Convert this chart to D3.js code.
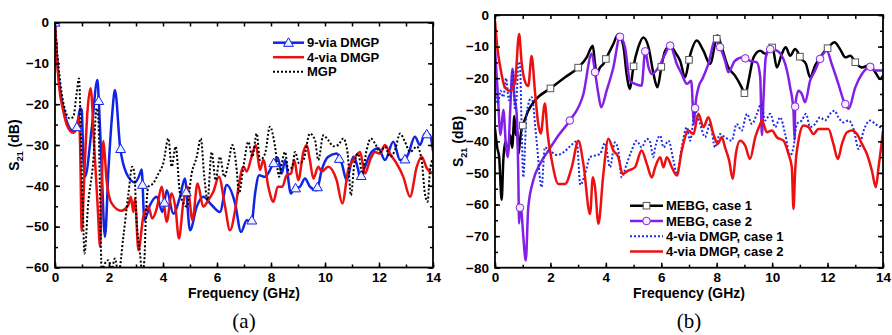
<!DOCTYPE html>
<html><head><meta charset="utf-8">
<script src="https://cdn.jsdelivr.net/npm/d3@7"></script>
<style>html,body{margin:0;padding:0;background:#fff;}svg{display:block;}</style>
</head><body>
<svg id="c" width="892" height="335"></svg>
<script>
// ---------- DATA ----------
const freqTicks = [0, 2, 4, 6, 8, 10, 12, 14];
const yTicksA = [0, -10, -20, -30, -40, -50, -60];
const yTicksB = [0, -10, -20, -30, -40, -50, -60, -70, -80];
const captions = ["(a)", "(b)"];
const xTitle = "Frequency (GHz)";
const legendA = ["9-via DMGP", "4-via DMGP", "MGP"];
const legendB = ["MEBG, case 1", "MEBG, case 2", "4-via DMGP, case 1", "4-via DMGP, case 2"];

// panel (a) series: [frequency GHz, S21 dB]
const via9 = [[0,0],[0.06,-7],[0.15,-14.5],[0.3,-20.5],[0.45,-24.5],[0.7,-26.8],[0.82,-25.5],[0.93,-21],[0.99,-21.5],[1.05,-33],[1.11,-37.8],[1.36,-26],[1.57,-14.1],[1.63,-20.2],[1.73,-36],[1.85,-52.5],[1.98,-36],[2.12,-22.3],[2.22,-16.5],[2.41,-30.4],[2.65,-37],[2.96,-39.2],[3.15,-37],[3.21,-36],[3.31,-48.4],[3.52,-44.7],[3.77,-42.7],[3.98,-46.4],[4.14,-41.1],[4.38,-46.8],[4.63,-42.7],[4.81,-38.2],[5.0,-50.9],[5.25,-45.1],[5.49,-42.7],[5.8,-44.7],[6.11,-46.4],[6.36,-39.8],[6.67,-44.3],[6.89,-51.3],[7.1,-48.4],[7.28,-49],[7.41,-41.9],[7.56,-37.4],[7.78,-37.8],[8.09,-34.5],[8.25,-33.1],[8.4,-37],[8.52,-33.7],[8.74,-41.9],[8.86,-40.7],[9.07,-40.2],[9.26,-38.2],[9.44,-40.2],[9.69,-41.1],[9.88,-36.1],[10.12,-32.9],[10.43,-32.1],[10.62,-34.5],[10.8,-38.6],[11.05,-32.9],[11.23,-36.1],[11.3,-38.2],[11.48,-35.3],[11.73,-31.7],[11.98,-30.8],[12.22,-33.7],[12.53,-29.2],[12.78,-33.7],[12.96,-33.5],[13.09,-32.1],[13.33,-28],[13.52,-30],[13.7,-27.2],[13.89,-27.6],[14,-31.5]];
const via4 = [[0,0],[0.06,-7.5],[0.15,-15.5],[0.3,-21.5],[0.45,-25.3],[0.68,-27],[0.8,-25.5],[0.88,-23],[0.93,-30],[0.99,-51],[1.1,-35],[1.2,-22],[1.32,-16.1],[1.45,-30],[1.58,-45],[1.67,-54.9],[1.73,-40],[1.79,-29],[1.85,-33],[1.91,-38.6],[2.1,-44.3],[2.45,-46.1],[2.72,-44.7],[2.81,-42.7],[2.9,-46.4],[2.96,-43.1],[3.09,-55.8],[3.27,-47.6],[3.46,-45.1],[3.6,-48],[3.77,-45.5],[3.95,-40.2],[4.14,-48.8],[4.32,-41.9],[4.47,-45.9],[4.59,-52.9],[4.75,-44.3],[4.91,-40.2],[5.09,-48.4],[5.28,-39.4],[5.49,-45.1],[5.68,-43.5],[5.86,-41.5],[6.07,-37.8],[6.3,-45.1],[6.48,-50.9],[6.67,-46],[6.79,-40.6],[6.98,-35.3],[7.1,-36.5],[7.28,-32.9],[7.44,-30],[7.59,-36.1],[7.72,-33.7],[7.9,-40.2],[8.09,-43.9],[8.25,-40.2],[8.42,-40.2],[8.58,-37.4],[8.74,-37],[8.86,-33.7],[9.01,-38.6],[9.2,-31.7],[9.32,-30],[9.44,-33.7],[9.57,-38.2],[9.75,-35.3],[9.88,-36.5],[10.12,-35.3],[10.43,-38.6],[10.64,-44.3],[10.86,-36.1],[11.05,-33.7],[11.3,-31.7],[11.48,-37],[11.67,-33.7],[11.85,-31.7],[12.04,-32.1],[12.22,-30],[12.44,-32.5],[12.65,-34.5],[12.9,-37.8],[13.15,-42.7],[13.4,-35.3],[13.58,-32.9],[13.77,-35.7],[14,-37]];
const mgp = [[0,0],[0.06,-6],[0.12,-10],[0.25,-17.4],[0.4,-22],[0.55,-23.5],[0.68,-23.1],[0.8,-17.4],[0.89,-13.7],[0.96,-28],[1.03,-45],[1.09,-56.6],[1.23,-44.3],[1.42,-33.7],[1.54,-21],[1.6,-23],[1.66,-40],[1.73,-60.7],[1.85,-59],[1.98,-58.2],[2.1,-60.3],[2.22,-57.8],[2.35,-61.5],[2.53,-52.5],[2.72,-41.9],[2.86,-35.3],[2.94,-37],[3.02,-48.4],[3.15,-56.6],[3.23,-61.5],[3.31,-58.2],[3.36,-48.4],[3.46,-40.2],[3.64,-39.4],[3.83,-37],[4.01,-34.5],[4.2,-28.4],[4.32,-35.3],[4.47,-30.4],[4.63,-41.9],[4.88,-45.1],[5.06,-37],[5.25,-32.9],[5.4,-28.4],[5.53,-37.8],[5.65,-43.5],[5.8,-31.7],[5.95,-38.6],[6.11,-32.9],[6.27,-37.8],[6.42,-34.5],[6.57,-30],[6.73,-36.1],[6.81,-41.9],[6.98,-35.3],[7.16,-29.2],[7.31,-32.9],[7.47,-27.2],[7.59,-33.7],[7.78,-32.1],[7.96,-25.5],[8.15,-30.4],[8.3,-37.8],[8.4,-34.5],[8.52,-31.7],[8.64,-36.1],[8.79,-35.3],[8.89,-31.7],[9.04,-34.5],[9.2,-33.7],[9.44,-27.2],[9.63,-28.8],[9.75,-33.7],[9.94,-27.6],[10.12,-28.8],[10.31,-30.3],[10.49,-30],[10.68,-28.4],[10.84,-32.1],[10.96,-42.3],[11.09,-34.5],[11.23,-32.1],[11.38,-37],[11.54,-31.3],[11.7,-28.4],[11.85,-29.6],[12.04,-31.7],[12.22,-30.4],[12.41,-32.9],[12.59,-31.3],[12.78,-27.2],[12.96,-29.2],[13.15,-31.7],[13.4,-30.4],[13.58,-33.7],[13.7,-41.9],[13.8,-43.9],[13.89,-36.1],[14,-33.3]];
const via9Markers = [0, 0.81, 1.62, 2.43, 3.24, 4.05, 4.86, 7.29, 8.1, 8.91, 9.72, 10.53, 11.34, 12.96, 13.77];

// panel (b) series
const mebg1 = [[0,-36],[0.08,-42],[0.15,-45],[0.24,-58.5],[0.3,-46],[0.38,-40],[0.45,-44],[0.55,-38],[0.62,-42],[0.7,-32],[0.75,-38],[0.8,-36],[0.85,-44],[0.9,-40],[0.96,-36],[1.02,-34.5],[1.2,-30.3],[1.44,-27.1],[2.02,-23.1],[2.53,-19.7],[3.01,-16.6],[3.31,-13.4],[3.53,-9.7],[3.61,-15.5],[3.67,-18.5],[3.79,-16.6],[3.91,-15.5],[4.03,-13.4],[4.27,-9.2],[4.45,-6],[4.63,-9.7],[4.75,-18.7],[4.87,-23.4],[4.99,-16.6],[5.17,-10.2],[5.35,-7.1],[5.54,-10.2],[5.72,-18.7],[5.86,-22.9],[6.02,-15.5],[6.14,-11.3],[6.32,-9.7],[6.5,-11.8],[6.68,-14.5],[6.86,-19.7],[7.02,-13.4],[7.28,-8.1],[7.52,-11.3],[7.76,-15.5],[8.03,-6.5],[8.18,-10.2],[8.42,-16.6],[8.66,-19.2],[8.9,-22.9],[9.03,-25.3],[9.15,-20.8],[9.33,-13.4],[9.57,-11.3],[9.75,-12.3],[10.01,-10.2],[10.17,-16.6],[10.35,-12.3],[10.49,-10.2],[10.65,-12.9],[10.83,-10.8],[11.05,-13.9],[11.22,-15.5],[11.37,-19.7],[11.55,-16],[11.73,-13.4],[12.03,-10.2],[12.25,-8.6],[12.45,-10.8],[12.64,-13.4],[12.82,-12.9],[13.03,-15.3],[13.24,-16.6],[13.48,-16],[13.72,-18.1],[13.9,-20.3],[14,-19.2]];
const mebg2 = [[0,-10.5],[0.1,-25],[0.2,-38],[0.3,-30],[0.4,-42],[0.46,-45],[0.55,-30],[0.63,-17],[0.7,-26],[0.78,-31],[0.84,-50],[0.87,-66],[0.9,-61],[0.95,-62],[1.02,-70],[1.11,-77.7],[1.2,-61],[1.38,-52.4],[1.62,-47.2],[1.93,-42.9],[2.3,-38],[2.7,-33.4],[3.19,-25],[3.49,-12.3],[3.61,-18.1],[3.73,-25],[3.83,-29.2],[4.03,-23.9],[4.27,-16.6],[4.51,-6.9],[4.69,-10.2],[4.87,-20.8],[5.05,-21.8],[5.29,-22.4],[5.42,-11.5],[5.54,-16.6],[5.66,-18.7],[5.9,-16.6],[6.14,-12.3],[6.32,-9.7],[6.56,-15.5],[6.74,-18.7],[6.92,-21.8],[7.08,-20.8],[7.18,-34.5],[7.22,-29.5],[7.36,-22.4],[7.48,-20.3],[7.7,-15.5],[7.94,-8.1],[8.12,-10.2],[8.3,-14.5],[8.42,-18.1],[8.66,-14.5],[8.96,-13.4],[9.2,-14.5],[9.45,-15],[9.57,-19.7],[9.63,-38],[9.69,-26.1],[9.77,-13.4],[9.93,-10.8],[10.17,-11.3],[10.47,-15.5],[10.65,-22.9],[10.77,-30.3],[10.81,-39.5],[10.83,-29],[10.95,-24],[11.07,-25],[11.19,-27.6],[11.37,-20.8],[11.55,-17.6],[11.73,-13.9],[11.97,-11.3],[12.15,-15.5],[12.39,-21.8],[12.58,-27.1],[12.64,-28.2],[12.76,-29.7],[13,-22.9],[13.24,-18.7],[13.54,-16.4],[13.72,-17.6],[14,-17.6]];
const dmgp4c1 = [[0,-22],[0.1,-28],[0.2,-24],[0.3,-26],[0.4,-20],[0.5,-27],[0.58,-24],[0.65,-17.5],[0.72,-30],[0.78,-26],[0.85,-14.8],[0.9,-15.5],[0.96,-35],[1.02,-51.4],[1.14,-31.3],[1.32,-26],[1.5,-39.8],[1.68,-54.5],[1.8,-41.9],[1.99,-43],[2.23,-44.3],[2.47,-43.5],[2.71,-41.5],[2.95,-40],[3.08,-53.8],[3.25,-50.3],[3.43,-45],[3.61,-44.5],[3.79,-44],[3.97,-40.5],[4.15,-48.2],[4.33,-40.3],[4.45,-42.9],[4.57,-51.4],[4.75,-47.2],[4.93,-42.9],[5.11,-39.8],[5.29,-41.9],[5.48,-39.2],[5.6,-40.3],[5.71,-45],[5.78,-41.9],[5.96,-38.2],[6.08,-41.9],[6.26,-39.8],[6.44,-46.1],[6.56,-50.3],[6.74,-41.9],[6.92,-35.5],[7.04,-39.8],[7.22,-30.3],[7.4,-34.5],[7.58,-38.7],[7.76,-34.5],[7.94,-41.9],[8.12,-37.7],[8.3,-38.7],[8.54,-39.8],[8.72,-34.5],[8.9,-36.6],[9.09,-31.3],[9.27,-34.5],[9.45,-31.3],[9.6,-28.2],[9.75,-33.4],[9.93,-31.3],[10.11,-35.5],[10.29,-32.4],[10.47,-37.7],[10.65,-44.5],[10.77,-41.9],[10.89,-34.5],[11.07,-33.4],[11.22,-31.3],[11.37,-35.5],[11.55,-34.5],[11.73,-32.4],[11.91,-33.4],[12.09,-31.3],[12.25,-30.3],[12.39,-32.4],[12.58,-34],[12.76,-33.4],[12.94,-36.1],[13.12,-42.4],[13.3,-36.6],[13.54,-33.4],[13.72,-34.5],[14,-36.1]];
const dmgp4c2 = [[0,-1.8],[0.08,-10],[0.18,-16],[0.36,-22.9],[0.54,-24],[0.72,-21.5],[0.87,-6],[0.96,-15],[1.08,-21],[1.2,-22.5],[1.32,-13],[1.44,-24],[1.56,-34.5],[1.65,-37.5],[1.8,-28],[1.9,-37.7],[2.05,-46.1],[2.29,-53.5],[2.53,-53.5],[2.77,-48.2],[3.01,-39.8],[3.19,-47.2],[3.43,-63],[3.53,-51.4],[3.61,-54.5],[3.73,-66.1],[3.91,-50.3],[4.09,-39.2],[4.27,-42.9],[4.45,-45],[4.6,-50.3],[4.81,-49.3],[5.05,-48.2],[5.29,-42.9],[5.48,-47.2],[5.66,-51.4],[5.78,-48.2],[5.96,-45],[6.08,-48.2],[6.2,-45],[6.38,-48.2],[6.56,-50.8],[6.74,-42.9],[6.98,-36.6],[7.16,-37.7],[7.34,-31.3],[7.52,-35.5],[7.7,-32.4],[7.88,-37.7],[8.04,-40.8],[8.18,-38.7],[8.3,-41.9],[8.45,-46.1],[8.58,-51.9],[8.69,-44],[8.84,-39.8],[9.03,-41.4],[9.2,-45.6],[9.39,-38.7],[9.57,-34.5],[9.63,-33.4],[9.81,-37.1],[9.99,-36.6],[10.17,-38.7],[10.41,-39.8],[10.59,-44],[10.71,-48.2],[10.77,-61.4],[10.83,-49.3],[10.95,-39.8],[11.13,-35],[11.31,-35.5],[11.49,-37.7],[11.67,-36.1],[11.85,-36.1],[12.03,-36.1],[12.21,-40.8],[12.37,-45.6],[12.52,-40.8],[12.7,-37.1],[12.88,-36.6],[13.06,-37.7],[13.24,-40.8],[13.42,-44],[13.6,-49.3],[13.74,-54.5],[13.84,-48.2],[13.96,-39.8],[14,-36.6]];
const mebg1Markers = [1, 2, 3, 4, 5, 6, 7, 8, 9, 10, 11, 12, 13];
const mebg2Markers = [0.9, 2.7, 3.61, 4.51, 5.42, 6.32, 7.22, 8.12, 9.03, 9.93, 10.83, 11.73, 12.64, 13.54];

// ---------- DRAWING ----------
const svg = d3.select("#c");
const FONT = "'Liberation Sans', Arial, sans-serif";
const C = {blue:"#1024e6", red:"#ec1010", black:"#000", purple:"#8420e6", dotblue:"#1e2ee0"};

function interp(data, f){
  const i = d3.bisector(d=>d[0]).left(data, f);
  if (i<=0) return data[0][1];
  if (i>=data.length) return data[data.length-1][1];
  const a=data[i-1], b=data[i];
  return a[1] + (b[1]-a[1])*(f-a[0])/(b[0]-a[0]);
}

function panel(cfg){
  const x = d3.scaleLinear().domain([0,14]).range(cfg.xr);
  const y = d3.scaleLinear().domain(cfg.yd).range(cfg.yr);
  const g = svg.append("g");
  const id = "clip"+cfg.name;
  svg.append("clipPath").attr("id", id).append("rect")
    .attr("x", cfg.xr[0]).attr("y", cfg.yr[1]).attr("width", cfg.xr[1]-cfg.xr[0]).attr("height", cfg.yr[0]-cfg.yr[1]);

  const line = d3.line().x(d=>x(d[0])).y(d=>y(d[1])).curve(d3.curveMonotoneX);
  const plot = g.append("g").attr("clip-path", `url(#${id})`);
  cfg.series.forEach(s=>{
    plot.append("path").datum(s.data).attr("d", line).attr("fill","none")
      .attr("stroke", s.color).attr("stroke-width", s.width)
      .attr("stroke-dasharray", s.dash || null).attr("stroke-linejoin","round");
  });
  cfg.series.forEach(s=>{
    if (!s.markers) return;
    s.markers.forEach(f=>{
      drawMarker(plot, s.marker, x(f), y(interp(s.data, f)), s.color);
    });
  });

  // axes (inward ticks)
  const minorX = d3.range(0, 15, 1), minorY = d3.range(cfg.yd[0], 1, 5);
  const fmt = d3.format("d");
  g.append("g").attr("transform", `translate(0,${cfg.yr[0]})`)
    .call(d3.axisBottom(x).tickValues(freqTicks).tickFormat(fmt).tickSize(-5).tickPadding(cfg.xpad));
  g.append("g").attr("transform", `translate(0,${cfg.yr[0]})`)
    .call(d3.axisBottom(x).tickValues(minorX).tickFormat("").tickSize(-3));
  g.append("g").attr("transform", `translate(0,${cfg.yr[1]})`)
    .call(d3.axisTop(x).tickValues(minorX).tickFormat("").tickSize(-4));
  g.append("g").attr("transform", `translate(${cfg.xr[0]},0)`)
    .call(d3.axisLeft(y).tickValues(cfg.yt).tickFormat(fmt).tickSize(-5).tickPadding(6));
  g.append("g").attr("transform", `translate(${cfg.xr[0]},0)`)
    .call(d3.axisLeft(y).tickValues(minorY).tickFormat("").tickSize(-3));
  g.append("g").attr("transform", `translate(${cfg.xr[1]},0)`)
    .call(d3.axisRight(y).tickValues(cfg.yt).tickFormat("").tickSize(-5));
  g.append("g").attr("transform", `translate(${cfg.xr[1]},0)`)
    .call(d3.axisRight(y).tickValues(minorY).tickFormat("").tickSize(-3));
  g.selectAll(".domain").remove();
  g.selectAll(".tick line").attr("stroke","#000").attr("stroke-width",1.5);
  g.selectAll(".tick text").attr("font-family", FONT).attr("font-weight","bold").attr("font-size",13.5).attr("fill","#000");
  g.append("rect").attr("x", cfg.xr[0]).attr("y", cfg.yr[1]).attr("width", cfg.xr[1]-cfg.xr[0]).attr("height", cfg.yr[0]-cfg.yr[1])
    .attr("fill","none").attr("stroke","#000").attr("stroke-width",1.8);

  const cx = (cfg.xr[0]+cfg.xr[1])/2;
  g.append("text").attr("x", cx).attr("y", 298).attr("text-anchor","middle")
    .attr("font-family", FONT).attr("font-weight","bold").attr("font-size",14).text(xTitle);
  const yl = g.append("text").attr("transform", `translate(${cfg.ylx},${(cfg.yr[0]+cfg.yr[1])/2}) rotate(-90)`)
    .attr("text-anchor","middle").attr("font-family", FONT).attr("font-weight","bold").attr("font-size",14);
  yl.append("tspan").text("S");
  yl.append("tspan").attr("font-size",9).attr("dy",4).text("21");
  yl.append("tspan").attr("dy",-4).text(" (dB)");
  g.append("text").attr("x", cx).attr("y", 328).attr("text-anchor","middle")
    .attr("font-family","'Liberation Serif','Times New Roman',serif").attr("font-size",21).text(cfg.caption);

  // legend
  cfg.series.forEach((s,i)=>{
    const ly = cfg.leg.y0 + i*cfg.leg.dy;
    g.append("line").attr("x1", cfg.leg.x0).attr("x2", cfg.leg.x1).attr("y1", ly).attr("y2", ly)
      .attr("stroke", s.color).attr("stroke-width", s.width).attr("stroke-dasharray", s.dash || null);
    if (s.marker) drawMarker(g, s.marker, (cfg.leg.x0+cfg.leg.x1)/2, ly, s.color);
    g.append("text").attr("x", cfg.leg.x1+3).attr("y", ly).attr("dy","0.36em")
      .attr("font-family", FONT).attr("font-weight","bold").attr("font-size",13).text(s.label);
  });
}

function drawMarker(g, type, cx, cy, color){
  if (type==="tri"){
    g.append("path").attr("d", d3.symbol(d3.symbolTriangle, 42)()).attr("transform",`translate(${cx},${cy+0.8})`)
      .attr("fill","#eef0ff").attr("stroke", color).attr("stroke-width",1);
  } else if (type==="sq"){
    g.append("rect").attr("x",cx-3.3).attr("y",cy-3.3).attr("width",6.6).attr("height",6.6)
      .attr("fill","#fff").attr("stroke","#555").attr("stroke-width",1);
  } else if (type==="circ"){
    g.append("circle").attr("cx",cx).attr("cy",cy).attr("r",3.8)
      .attr("fill","#f6eefc").attr("stroke", color).attr("stroke-width",1);
  }
}

panel({
  name:"a", xr:[55,433], yd:[-60,0], yr:[267.5,22.5], yt:yTicksA, xpad:5, ylx:18.5, caption:captions[0],
  leg:{x0:273, x1:304, y0:42.7, dy:14.5},
  series:[
    {label:legendA[0], data:via9, color:C.blue, width:2.5, marker:"tri", markers:via9Markers},
    {label:legendA[1], data:via4, color:C.red, width:2.5},
    {label:legendA[2], data:mgp, color:C.black, width:2, dash:"2,2"}
  ]
});
panel({
  name:"b", xr:[495,883], yd:[-80,0], yr:[267.7,15], yt:yTicksB, xpad:4.5, ylx:463, caption:captions[1],
  leg:{x0:630, x1:663, y0:205.7, dy:15.3},
  series:[
    {label:legendB[0], data:mebg1, color:C.black, width:2.5, marker:"sq", markers:mebg1Markers},
    {label:legendB[1], data:mebg2, color:C.purple, width:2.5, marker:"circ", markers:mebg2Markers},
    {label:legendB[2], data:dmgp4c1, color:C.dotblue, width:2, dash:"2,2"},
    {label:legendB[3], data:dmgp4c2, color:C.red, width:2.5}
  ]
});
</script>
</body></html>
